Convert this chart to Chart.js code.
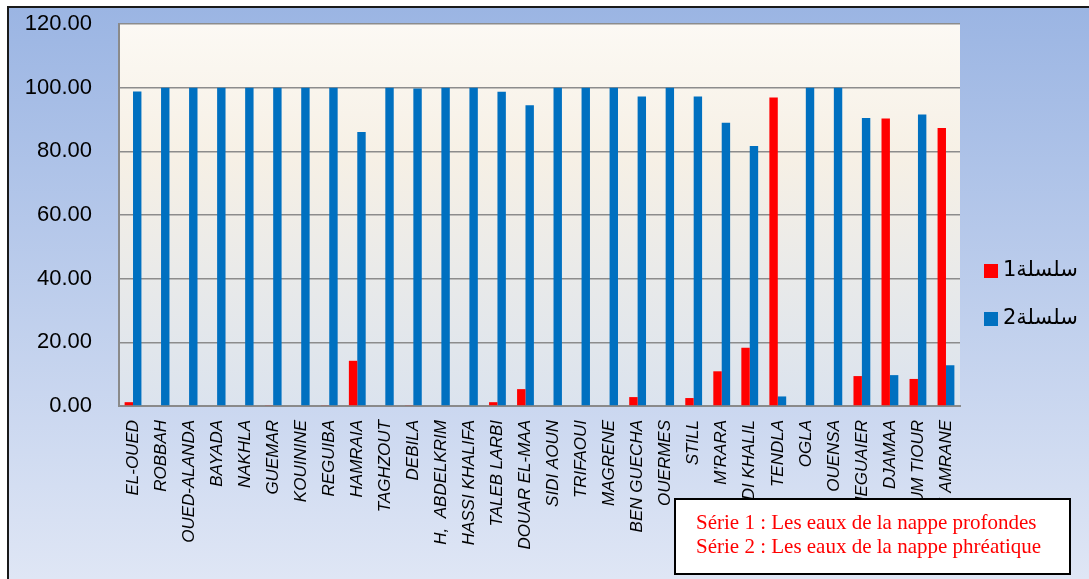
<!DOCTYPE html>
<html>
<head>
<meta charset="utf-8">
<script src="https://cdn.jsdelivr.net/npm/chart.js"></script>
<style>
  html, body { margin: 0; padding: 0; background: #ffffff; }
  #wrap { width: 1089px; height: 579px; }
</style>
</head>
<body>
<div id="wrap"><canvas id="c" width="1089" height="579"></canvas></div>
<script>
// ---- data ----
const categories = ["EL-OUED","ROBBAH","OUED-ALANDA","BAYADA","NAKHLA","GUEMAR","KOUININE","REGUIBA","HAMRAIA","TAGHZOUT","DEBILA","H,  ABDELKRIM","HASSI KHALIFA","TALEB LARBI","DOUAR EL-MAA","SIDI AOUN","TRIFAOUI","MAGRENE","BEN GUECHA","OUERMES","STILL","M'RARA","SIDI KHALIL","TENDLA","OGLA","OUENSA","MEGUAIER","DJAMAA","OUM TIOUR","SIDI AMRANE"];
const series1 = [1.2,0,0,0,0,0.2,0,0.2,14.2,0,0.2,0,0,1.2,5.3,0,0,0,2.8,0,2.5,10.9,18.3,96.9,0,0,9.4,90.3,8.5,87.3];
const series2 = [98.8,100,100,100,100,100,100,100,86.1,100,99.7,100,100,98.7,94.5,100,100,100,97.2,100,97.2,89.0,81.7,3.0,100,100,90.5,9.7,91.6,12.8];
const seriesNames = ["سلسلة1","سلسلة2"];
const yTicks = {min: 0, max: 120, step: 20};
const noteLines = ["Série 1 : Les eaux de la nappe profondes","Série 2 : Les eaux de la nappe phréatique"];

const bgPlugin = {
  id: 'bg',
  beforeDraw(chart) {
    const ctx = chart.ctx, W = chart.width, H = chart.height, a = chart.chartArea;
    ctx.save();
    ctx.fillStyle = '#ffffff';
    ctx.fillRect(0, 0, W, H);
    let g = ctx.createLinearGradient(0, 8, 0, H);
    g.addColorStop(0, '#9bb5e3');
    g.addColorStop(1, '#dfe6f5');
    ctx.fillStyle = g;
    ctx.fillRect(8, 7, W - 8, H - 7);
    ctx.strokeStyle = '#1a1a1a';
    ctx.lineWidth = 2;
    ctx.beginPath();
    ctx.moveTo(8, H); ctx.lineTo(8, 7); ctx.lineTo(W, 7);
    ctx.stroke();
    let g2 = ctx.createLinearGradient(0, a.top, 0, a.bottom);
    g2.addColorStop(0, '#fcf9f4');
    g2.addColorStop(0.35, '#f6f0e5');
    g2.addColorStop(1, '#dbe3ee');
    ctx.fillStyle = g2;
    ctx.fillRect(a.left, a.top, a.right - a.left, a.bottom - a.top);
    ctx.restore();
  },
  afterDraw(chart) {
    const ctx = chart.ctx;
    ctx.save();
    // legend
    ctx.font = '21px "DejaVu Sans"';
    ctx.textBaseline = 'middle';
    ctx.textAlign = 'left';
    chart.data.datasets.forEach((ds, i) => {
      const cy = 271 + i * 48;
      ctx.fillStyle = ds.backgroundColor;
      ctx.fillRect(984, cy - 7, 14, 14);
      ctx.fillStyle = '#000000';
      ctx.fillText(ds.label, 1003, cy);
    });
    // note box
    ctx.fillStyle = '#ffffff';
    ctx.fillRect(675, 499, 395, 75);
    ctx.strokeStyle = '#000000';
    ctx.lineWidth = 2;
    ctx.strokeRect(675, 499, 395, 75);
    ctx.fillStyle = '#ff0000';
    ctx.font = '21px "Liberation Serif"';
    ctx.textBaseline = 'alphabetic';
    noteLines.forEach((t, i) => ctx.fillText(t, 696, 529 + i * 24));
    ctx.restore();
  }
};

new Chart(document.getElementById('c'), {
  type: 'bar',
  data: {
    labels: categories,
    datasets: [
      {label: seriesNames[0], data: series1, backgroundColor: '#ff0000', categoryPercentage: 0.6, barPercentage: 1},
      {label: seriesNames[1], data: series2, backgroundColor: '#0070c0', categoryPercentage: 0.6, barPercentage: 1}
    ]
  },
  options: {
    responsive: false,
    animation: false,
    devicePixelRatio: 1,
    layout: {padding: {left: 0, top: 24, right: 129, bottom: 0}},
    plugins: {legend: {display: false}, tooltip: {enabled: false}},
    scales: {
      x: {
        grid: {display: false, drawTicks: false},
        border: {display: true, color: '#8a8a8a', width: 2},
        ticks: {
          autoSkip: false, minRotation: 90, maxRotation: 90, padding: 14,
          color: '#000000', font: {family: '"Liberation Sans", Arial', size: 17, style: 'italic'}
        },
        afterFit(s) { s.height = 173; s.paddingLeft = 0; s.paddingRight = 0; s.paddingTop = 0; s.paddingBottom = 0; }
      },
      y: {
        min: yTicks.min, max: yTicks.max,
        grid: {color: '#8c8c8c', lineWidth: 1.5, drawTicks: false},
        border: {display: true, color: '#8a8a8a', width: 2},
        ticks: {
          stepSize: yTicks.step, padding: 27, color: '#000000',
          font: {family: '"Liberation Sans", Arial', size: 22},
          callback: v => Number(v).toFixed(2)
        },
        afterFit(s) { s.width = 119; s.paddingTop = 0; s.paddingBottom = 0; s.paddingLeft = 0; s.paddingRight = 0; }
      }
    }
  },
  plugins: [bgPlugin]
});
</script>
</body>
</html>
